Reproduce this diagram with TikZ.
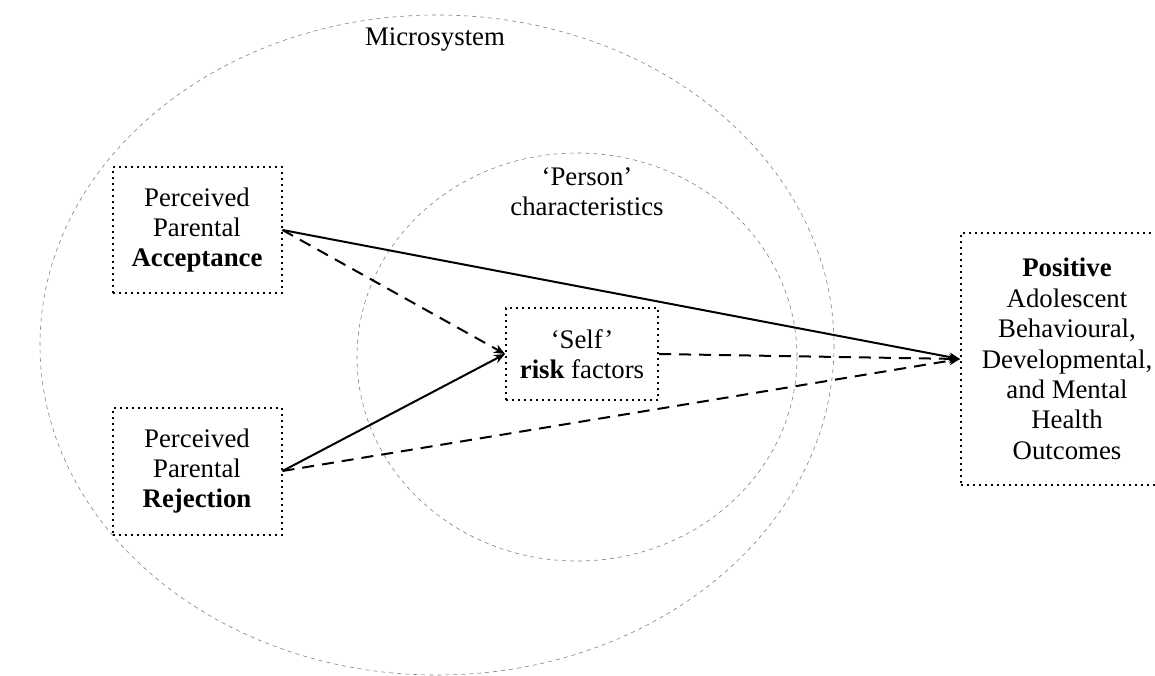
\documentclass[tikz,border=0pt]{standalone}
\usepackage{fontspec}
\setmainfont{Liberation Serif}
\usepackage{tikz}
\usetikzlibrary{positioning}
\usetikzlibrary{arrows.meta}

\begin{document}
\begin{tikzpicture}[x=0.5pt,y=-0.5pt,
        font=\fontsize{13.4}{15.2}\selectfont,
        box/.style={draw,rectangle,dotted,line width=1pt,align=center,inner sep=2pt},
        ring/.style={draw=gray,line width=0.3pt,dash pattern=on 2pt off 2pt},
        link/.style={line width=1pt,-{Stealth[length=5.5pt,width=4.5pt]}},
        dlink/.style={link,dash pattern=on 6pt off 4pt}]
        \useasboundingbox (0,0) rectangle (1155,675);
        \clip (0,0) rectangle (1155,675);
        % systems
        \draw [ring] (437,345) ellipse [x radius=397, y radius=330];
        \draw [ring] (577,357) ellipse [x radius=220, y radius=204];
        \node (micro) at (435,40) {Microsystem};
        \node (person) [align=center] at (587,192) {‘Person’\\characteristics};
        % boxes
        \node (accept) [box,minimum width=84.5pt,minimum height=63pt] at (197,230)
            {Perceived\\Parental\\\textbf{Acceptance}};
        \node (reject) [box,minimum width=84.5pt,minimum height=63.5pt] at (197,471)
            {Perceived\\Parental\\\textbf{Rejection}};
        \node (self) [box,minimum width=76pt,minimum height=46pt] at (582,354)
            {‘Self’\\\textbf{risk} factors};
        \node (outcome) [box,minimum width=106pt,minimum height=126pt] at (1067,359)
            {\textbf{Positive}\\Adolescent\\Behavioural,\\Developmental,\\and Mental\\Health\\Outcomes};
        % paths
        \draw [link] (accept.east) -- (outcome.west);
        \draw [dlink] (accept.east) -- (self.west);
        \draw [link] (reject.east) -- (self.west);
        \draw [dlink] (reject.east) -- (outcome.west);
        \draw [dlink] (self.east) -- (outcome.west);
    \end{tikzpicture}
\end{document}
